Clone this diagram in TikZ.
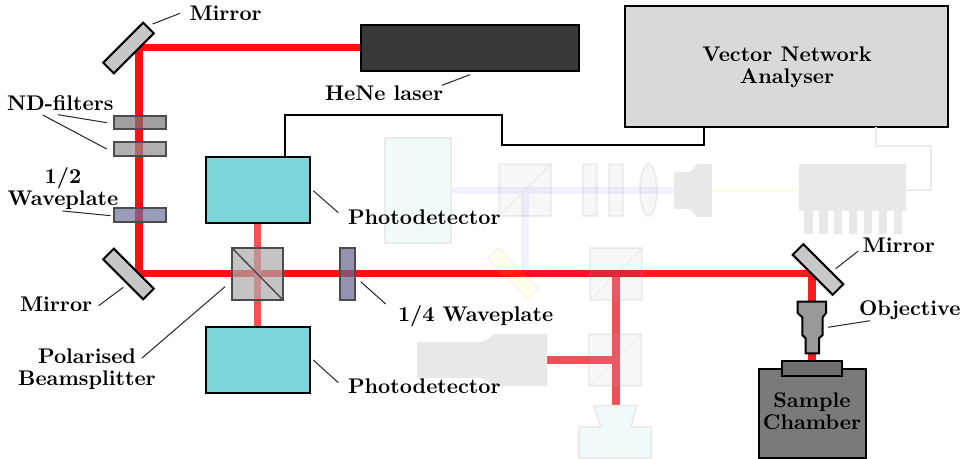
\documentclass[tikz,border=0pt]{standalone}
\usetikzlibrary{shapes.geometric}
\pgfdeclarelayer{beamlayer}
\pgfsetlayers{beamlayer,main}
\definecolor{beamred}{HTML}{FF1010}
\definecolor{beamlite}{HTML}{FF5055}
\definecolor{beamghost}{HTML}{EF5058}
\definecolor{beamdark}{RGB}{232,22,40}
\definecolor{beamright}{RGB}{245,30,30}
\definecolor{hwpfill}{RGB}{111,114,159}
\definecolor{qwpfill}{RGB}{100,103,145}
\definecolor{ghostblue}{HTML}{F1F1FF}
\definecolor{ghostyellow}{HTML}{FBFBE6}
\definecolor{ghosthalo}{HTML}{FFF6E0}
\definecolor{ghostline}{HTML}{EBEBEB}
\definecolor{ghostcyan}{HTML}{F1FAFA}
\definecolor{ghostgrey}{HTML}{E8E8E8}
\definecolor{pdcyan}{HTML}{7CD5D8}
\tikzset{
  lab/.style={font=\fontsize{10.6}{11}\selectfont\bfseries, inner sep=0pt, outer sep=0pt, text=black},
  solid box/.style={draw=black, line width=1pt, inner sep=0pt, outer sep=0pt},
  optic/.style={draw=black!70, line width=1pt, fill opacity=.7, inner sep=0pt, outer sep=0pt},
  ghost/.style={draw=ghostline, line width=1pt, inner sep=0pt, outer sep=0pt},
  ghost glass/.style={draw=black!40, draw opacity=.14, fill=black!30, fill opacity=.1, line width=1pt, inner sep=0pt, outer sep=0pt},
  ghost diag/.style={draw=black!40, draw opacity=.14, line width=.5pt},
  leader/.style={draw=black!85, line width=.5pt},
  beam/.style={line width=3.8pt, line join=miter},
  wire/.style={draw=black, line width=1pt, line join=miter},
  ghostwire/.style={draw=ghostline, line width=1pt, line join=miter},
  mirror/.style={solid box, fill=black!22, minimum width=28.3pt, minimum height=7.5pt},
}
\begin{document}
\begin{tikzpicture}[x=.5pt,y=-.5pt]
\useasboundingbox (0,0) rectangle (970,459);

% beam corners
\coordinate (c1) at (139,47.5);
\coordinate (c2) at (139,273.5);
\coordinate (c3) at (812,273.5);
\coordinate (g1) at (525,273.5);
\coordinate (g2) at (616,273.5);
\coordinate (g3) at (616,360);
\coordinate (g4) at (616,406);
\coordinate (g5) at (525,190.5);

% ghosted set-up
\node[ghost, fill=ghostcyan, minimum width=33pt, minimum height=52.25pt] (ccd) at (418,190.75) {};
\node[ghost glass, minimum width=26pt, minimum height=26pt] (gbs1) at (524.5,190.5) {};
\draw[ghost diag] (gbs1.south west) -- (gbs1.north east);
\node[ghost glass, minimum width=7pt, minimum height=26.25pt] (gp1) at (589.7,190.25) {};
\node[ghost glass, minimum width=7pt, minimum height=26.25pt] (gp2) at (615.7,190.25) {};
\node[ghost glass, ellipse, minimum width=8.5pt, minimum height=26pt] (glens) at (648.5,190) {};
\draw[fill=ghostgrey, draw=none] (674,172) -- (690,172) -- (697,164) -- (712,164) -- (712,217) -- (697,217) -- (690,209) -- (674,209) -- cycle;
\coordinate (gcam) at (712,190.5);
\node[fill=ghostgrey, inner sep=0pt, outer sep=0pt, minimum width=53.75pt, minimum height=23.5pt] (slm) at (852.5,187.5) {};
\foreach \px in {804,819,833.5,848.5,863.5,878.5,893.5}
  \fill[ghostgrey] (\px,211) rectangle ++(8.7,23.5);
\node[rotate=-45, draw=yellow!60!black, draw opacity=.07, fill=yellow, fill opacity=.07, line width=1pt, inner sep=0pt, outer sep=0pt, minimum width=28.3pt, minimum height=7.5pt] (gm) at (513,273.5) {};
\node[ghost glass, minimum width=26pt, minimum height=26pt] (gbs2) at (616,274) {};
\draw[ghost diag] (gbs2.south west) -- (gbs2.north east);
\node[ghost glass, minimum width=26pt, minimum height=26pt] (gbs3) at (615,360) {};
\draw[ghost diag] (gbs3.south west) -- (gbs3.north east);
\draw[fill=ghostgrey, draw=none] (417,342) -- (482,342) -- (495,334) -- (547,334) -- (547,386) -- (495,386) -- (482,378) -- (417,378) -- cycle;
\coordinate (gls) at (547,360);
\draw[ghost, fill=ghostcyan] (594,406) -- (636.7,406) -- (631,427) -- (651,427) -- (651,458) -- (579,458) -- (579,427) -- (600.7,427) -- cycle;

% solid elements
\node[solid box, fill=black!78, minimum width=109pt, minimum height=23pt] (laser) at (470,48) {};
\node[solid box, fill=black!15, minimum width=161.5pt, minimum height=60.5pt] (vna) at (786.5,66.5) {};
\node[lab, align=center] at (787,67.5) {Vector Network\\Analyser};
\node[solid box, fill=pdcyan, minimum width=52pt, minimum height=32.75pt] (pdt) at (257.5,190.25) {};
\node[solid box, fill=pdcyan, minimum width=52pt, minimum height=33pt] (pdb) at (257.5,360.5) {};
\node[optic, fill=black!53, minimum width=26pt, minimum height=6.75pt] (nd1) at (140,122.75) {};
\node[optic, fill=black!44, minimum width=26pt, minimum height=6.75pt] (nd2) at (140,149) {};
\node[optic, fill=hwpfill, minimum width=26pt, minimum height=7pt] (hwp) at (140,215.5) {};
\node[optic, fill=black!33, minimum width=25.5pt, minimum height=26pt] (pbs) at (257.5,274) {};
\draw[draw=black!70, line width=.75pt] (pbs.north west) -- (pbs.south east);
\node[optic, fill=qwpfill, minimum width=7.25pt, minimum height=26pt] (qwp) at (347.25,274) {};
\node[mirror, rotate=45] (m1) at (128.5,48) {};
\node[mirror, rotate=-45] (m2) at (128.5,274) {};
\node[mirror, rotate=-45] (m3) at (818,269.5) {};
\draw[solid box, fill=black!40] (797.7,301.7) -- (826,301.7) -- (826,313) -- (822.7,317.3) -- (822.7,335) -- (819,338.3) -- (819,353.3) -- (805.7,353.3) -- (805.7,338.3) -- (802.3,335) -- (802.3,317.3) -- (797.7,313) -- cycle;
\node[solid box, fill=black!52, minimum width=53.5pt, minimum height=44.5pt] (chamber) at (812.2,413.5) {};
\node[solid box, fill=black!57, minimum width=30pt, minimum height=7.35pt] (stage) at (812,368.3) {};
\node[lab, align=center] at (812,411) {Sample\\Chamber};

% beams (kept underneath everything)
\begin{pgfonlayer}{beamlayer}
  \draw[beam, ghostblue] (ccd.east |- g5) -- (gcam);
  \draw[beam, ghostblue] (g5) -- (g1);
  \draw[ghostyellow, line width=1.5pt] (gcam) -- (slm.west |- gcam);
  \draw[ghosthalo, line width=4.3pt] (g2) -- (g4);
  \draw[ghosthalo, line width=4.3pt] (gls) -- (g3);
  \draw[ghosthalo, line width=4.3pt] (g1) -- (c3) -- (stage.north -| c3);
  \draw[beam, beamghost] (g2) -- (g4);
  \draw[beam, beamghost] (gls) -- (g3);
  \draw[beam, beamred] (laser.west |- c1) -- (c1) -- (c2) -- (g1);
  \draw[beam, beamdark] (g1) -- (gbs2.east |- c3);
  \draw[beam, beamright] (gbs2.east |- c3) -- (c3) -- (stage.north -| c3);
  \draw[beam, beamlite] (pdt.south) -- (pdb.north);
\end{pgfonlayer}

% cables
\coordinate (w1) at (501.5,115);
\coordinate (w2) at (703.5,145.5);
\draw[wire] ([xshift=13.75pt]pdt.north) |- (w1) |- (w2) -- (w2 |- vna.south);
\coordinate (w3) at (876,146);
\coordinate (w4) at (930.5,190.5);
\draw[ghostwire] (w3 |- vna.south) -- (w3) -| (w4) -- (slm.east |- w4);

% labels
\node[lab, anchor=base west] (lm1) at (189.5,20.5) {Mirror};
\node[lab, anchor=base west] (lnd) at (7,110.7) {ND-filters};
\node[lab, align=center] (lhwp) at (63,188.5) {1/2\\Waveplate};
\node[lab, anchor=base west] (lm2) at (20,311.7) {Mirror};
\node[lab, align=center] (lpbs) at (87,369.5) {Polarised\\Beamsplitter};
\node[lab, anchor=base west] (lpd1) at (348,224.3) {Photodetector};
\node[lab, anchor=base west] (lpd2) at (348,394) {Photodetector};
\node[lab, anchor=base west] (lqwp) at (398,321.7) {1/4 Waveplate};
\node[lab, anchor=base west] (lhe) at (325,100.7) {HeNe laser};
\node[lab, anchor=base west] (lm3) at (862.7,252.7) {Mirror};
\node[lab, anchor=base west] (lobj) at (859,315.7) {Objective};

% leaders
\coordinate (a1) at (152.7,24);   \coordinate (b1) at (180,13.3);
\coordinate (a2) at (58,114.7);   \coordinate (b2) at (106.7,122.7);
\coordinate (a3) at (42.7,115);   \coordinate (b3) at (106.7,149);
\coordinate (a4) at (62.7,211);   \coordinate (b4) at (110.7,215.7);
\coordinate (a5) at (123.3,287.3); \coordinate (b5) at (98.7,305.7);
\coordinate (a6) at (225,286.7);  \coordinate (b6) at (141.7,358.3);
\coordinate (a7) at (313.3,190.7); \coordinate (b7) at (338.3,212.7);
\coordinate (a8) at (313.3,360);  \coordinate (b8) at (338.3,382.7);
\coordinate (a9) at (360.7,281.7); \coordinate (b9) at (385.7,304);
\coordinate (a10) at (470,74.7);  \coordinate (b10) at (442,85.3);
\coordinate (a11) at (858.3,251); \coordinate (b11) at (835.7,268.7);
\coordinate (a12) at (870,320.7); \coordinate (b12) at (828,327.3);
\foreach \i in {1,...,12} \draw[leader] (a\i) -- (b\i);
\end{tikzpicture}
\end{document}
